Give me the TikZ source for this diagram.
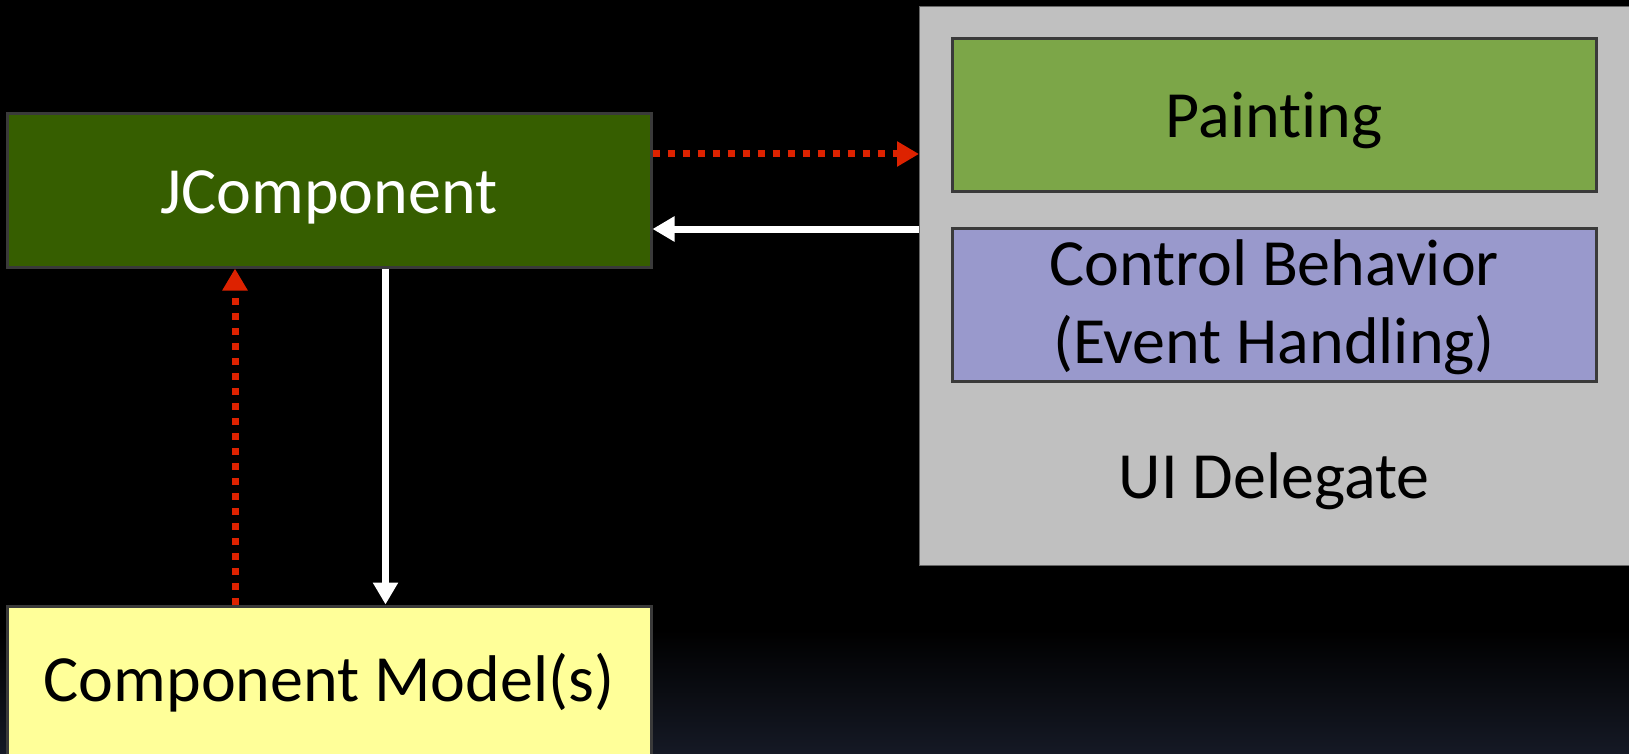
\documentclass[tikz,border=0pt]{standalone}
\usepackage{fontspec}
\setmainfont[Ligatures={NoCommon,NoRare}]{Carlito}
\usetikzlibrary{arrows.meta}
\definecolor{jgreen}{RGB}{54,94,0}
\definecolor{pgreen}{RGB}{124,166,72}
\definecolor{lav}{RGB}{153,153,204}
\definecolor{yel}{RGB}{255,255,153}
\definecolor{uigray}{RGB}{192,192,192}
\definecolor{bord}{RGB}{58,58,58}
\definecolor{redc}{RGB}{221,34,0}
\definecolor{bgbot}{RGB}{21,25,37}
\newcommand{\lowertext}[2]{\raisebox{-#1}[\height][\depth]{#2}}
\tikzset{
  txt/.style={font=\fontsize{66}{80}\selectfont},
  box/.style={draw=bord, line width=3pt, minimum width=644pt, minimum height=153pt, inner sep=0pt, txt, align=center},
  reddot/.style={draw=redc, line width=7pt, dash pattern=on 7pt off 8pt, -{Triangle[length=22pt,width=24pt,fill=redc]}},
  whitearr/.style={draw=white, line width=7pt, -{Triangle[length=22pt,width=24pt,fill=white]}},
}
\begin{document}
\begin{tikzpicture}[x=1pt,y=-1pt]
\useasboundingbox (0,0) rectangle (1629,754);
\begin{scope}
\clip (0,0) rectangle (1629,754);
\fill[black] (0,0) rectangle (1629,754);
\shade[top color=black, bottom color=bgbot] (0,630) rectangle (1629,754);
\node[fill=uigray, draw=gray!80!black, line width=1pt, minimum width=730pt, minimum height=559pt, anchor=north west, inner sep=0pt] (ui) at (919,6) {};
\node[box, fill=jgreen, text=white] (jc) at (329,190.5) {\lowertext{7pt}{JComponent}};
\node[box, fill=yel, text=black] (cm) at (329,682.5) {Component Model(s)};
\node[box, fill=pgreen, text=black] (pt) at (1274,115.5) {\lowertext{5pt}{Painting}};
\node[box, fill=lav, text=black] (cb) at (1274,304.5) {\lowertext{4pt}{Control Behavior}\\\lowertext{2pt}{(Event Handling)}};
\node[txt, text=black] (uil) at (1274,478) {\lowertext{3pt}{UI Delegate}};
\coordinate (p1) at (0,154);
\coordinate (p2) at (0,229);
\coordinate (p3) at (235,0);
\coordinate (p4) at (385.5,0);
\draw[reddot] (jc.east|-p1) -- (ui.west|-p1);
\draw[whitearr] (ui.west|-p2) -- (jc.east|-p2);
\draw[whitearr] (jc.south-|p4) -- (cm.north-|p4);
\draw[reddot] (cm.north-|p3) -- (jc.south-|p3);
\end{scope}
\end{tikzpicture}
\end{document}
